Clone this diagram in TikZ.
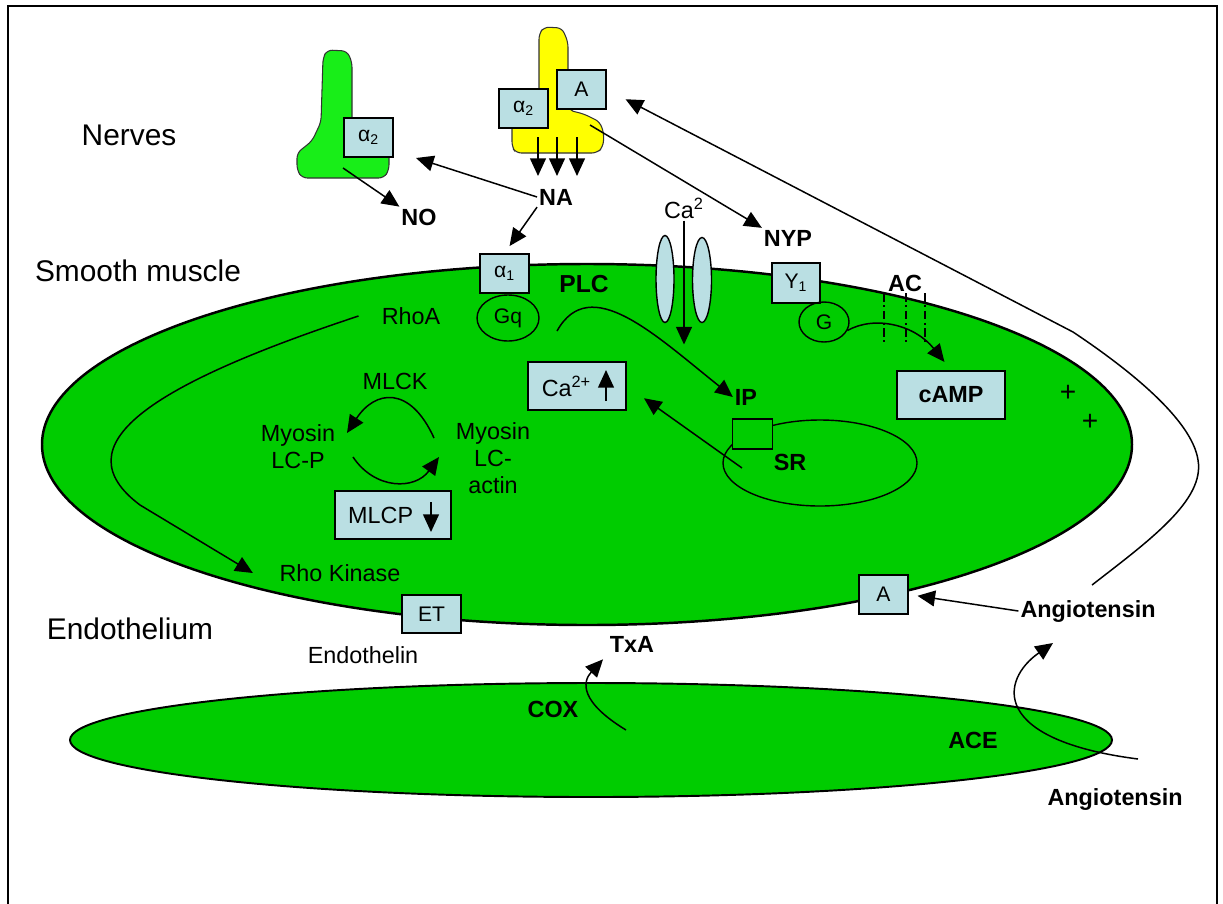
\documentclass[tikz,border=0pt]{standalone}
\usepackage{fontspec}
\setmainfont{Liberation Sans}
\usetikzlibrary{arrows.meta,shapes.geometric}
\definecolor{cellgreen}{RGB}{0,204,0}
\definecolor{nervegreen}{RGB}{24,238,24}
\definecolor{nerveyellow}{RGB}{255,255,0}
\definecolor{boxblue}{RGB}{186,223,227}
\tikzset{
  txt/.style={inner sep=1pt, font=\fontsize{13.3}{15.5}\selectfont},
  btxt/.style={inner sep=1pt, font=\fontsize{13.3}{15.5}\selectfont\bfseries},
  layer/.style={inner sep=1pt, font=\fontsize{17}{20}\selectfont},
  rec/.style={draw, fill=boxblue, line width=0.9pt, inner sep=0pt,
    minimum width=0.98cm, minimum height=0.78cm, font=\fontsize{12}{14}\selectfont},
  orb/.style={draw, ellipse, line width=0.8pt, inner sep=0pt, font=\fontsize{12}{14}\selectfont},
  arr/.style={-{Triangle[length=10pt,width=9pt]}, line width=0.85pt},
}

\begin{document}
\begin{tikzpicture}[x=0.2mm,y=-0.2mm]
 \useasboundingbox (0,0) rectangle (1223,903);
 \draw[line width=1pt] (8,910) -- (8,6) -- (1217,6) -- (1217,910);

 \filldraw[fill=cellgreen, line width=1.4pt] (587,444.5) ellipse (545 and 180.5);
 \filldraw[fill=cellgreen, line width=1.1pt] (591,740) ellipse (521 and 57);

 \filldraw[fill=nervegreen, draw=black!80, line width=0.6pt, rounded corners=3pt]
   (323,58) -- (327,50) -- (347,51) -- (352,62) -- (352,124) -- (389,124)
   -- (389,170) -- (384,178) -- (302,178) -- (297,170) -- (297,153)
   -- (312,141) -- (321,122) -- cycle;
 \filldraw[fill=nerveyellow, draw=black!80, line width=0.6pt, rounded corners=3pt]
   (539,34) -- (544,27) -- (562,28) -- (568,42) -- (568,110) -- (584,114)
   -- (600,122) -- (604,134) -- (603,147) -- (597,153) -- (516,153)
   -- (512,147) -- (512,122) -- (539,118) -- cycle;

 \node[rec] (a2n) at (368.5,137.5) {α\textsubscript{2}};
 \node[rec] (a2y) at (523.5,108.5) {α\textsubscript{2}};
 \node[rec] (atop) at (581.5,89.5) {A};
 \foreach \x in {538,557,577}
   \draw[arr] (\x,137) -- (\x,176);
 \coordinate (nfoot) at (343,168);
 \coordinate (yfoot) at (590,125);

 \node[layer] (nerves) at (129,135) {Nerves};
 \node[layer] (smooth) at (138,271) {Smooth muscle};
 \node[layer] (endo) at (130,629) {Endothelium};

 \node[btxt] (na) at (556,197) {NA};
 \node[btxt] (no) at (419,217) {NO};
 \node[btxt] (nyp) at (788,238) {NYP};
 \node[txt] (ca2) at (684,208) {Ca\textsuperscript{2}};

 \node[orb, fill=boxblue, minimum width=0.36cm, minimum height=1.74cm] (ch1) at (665,279) {};
 \node[orb, fill=boxblue, minimum width=0.38cm, minimum height=1.7cm] (ch2) at (702,280) {};
 \draw[arr] (ca2.south) -- ++(0,124);

 \node[rec] (a1) at (504.5,273.5) {α\textsubscript{1}};
 \node[orb, minimum width=1.24cm, minimum height=0.92cm] (gq) at (508,318) {Gq};
 \node[rec, minimum width=0.96cm, minimum height=0.8cm] (y1) at (796,283) {Y\textsubscript{1}};
 \node[orb, minimum width=1cm, minimum height=0.8cm] (g) at (824,322) {G};

 \draw[arr] (na.west) -- (416,158);
 \draw[arr] (nfoot) -- (no.north west);
 \draw[arr, shorten >=5pt] (na.south west) -- (a1.north);
 \draw[arr] (yfoot) -- (nyp.north west);

 \node[btxt, font=\fontsize{14}{16}\selectfont\bfseries] (plc) at (584,284) {PLC};
 \node[txt] (rhoa) at (411,316) {RhoA};
 \node[btxt] (ac) at (905,283) {AC};
 \foreach \x in {884,906,925}
   \draw[line width=0.6pt, dash pattern=on 5pt off 2pt on 1pt off 2pt] (\x,293) -- (\x,342);
 \node[rec, minimum width=2.16cm, minimum height=0.96cm, font=\fontsize{13.3}{15}\selectfont\bfseries] (camp) at (951,395) {cAMP};
 \draw[arr, shorten >=6pt] (g.-20) .. controls (875,315) and (915,325) .. (camp.north);
 \node[txt, font=\fontsize{16}{16}\selectfont] (p1) at (1068,393) {+};
 \node[txt, font=\fontsize{16}{16}\selectfont] (p2) at (1090,422) {+};

 \node[orb, minimum width=3.88cm, minimum height=1.72cm] (sr) at (820,463) {};
 \node[draw, fill=cellgreen, line width=0.8pt, inner sep=0pt, minimum width=0.8cm, minimum height=0.6cm] (ipbox) at (752.5,434) {};
 \node[btxt] (srl) at (790,462) {SR};
 \node[btxt] (ip) at (746,397) {IP};

 \node[rec, minimum width=1.96cm, minimum height=0.96cm, font=\fontsize{13.3}{15}\selectfont] (ca) at (577,386) {Ca\textsuperscript{2+}\hspace*{12pt}};
 \draw[arr] (606,401) -- (606,370);
 \coordinate (plcin) at (557,331);
 \draw[arr] (plcin) .. controls (590,272) and (655,335) .. (ip.west);
 \coordinate (srout) at (742,468);
 \draw[arr, shorten >=12pt] (srout) -- (ca.east);

 \node[txt] (mlck) at (395,381) {MLCK};
 \node[txt, align=center] (mlcp-l) at (298,447) {Myosin\\LC-P};
 \node[txt, align=center] (mlca) at (493,458) {Myosin\\LC-\\actin};
 \coordinate (upa) at (434,438);
 \coordinate (upb) at (347,433);
 \coordinate (loa) at (353,457);
 \coordinate (lob) at (439,457);
 \draw[arr] (upa) .. controls (410,385) and (375,390) .. (upb);
 \draw[arr] (loa) .. controls (375,490) and (415,490) .. (lob);
 \node[rec, minimum width=2.32cm, minimum height=0.96cm, font=\fontsize{13.3}{15}\selectfont] (mlcp) at (393,515) {MLCP\hspace*{14pt}};
 \draw[arr] (431,502) -- (431,532);

 \node[txt] (rhok) at (340,573) {Rho Kinase};
 \draw[arr] ([xshift=-12pt]rhoa.west) .. controls (150,385) and (60,445) .. (140,505) -- ([xshift=-14pt]rhok.west);

 \node[rec, minimum width=1.18cm, minimum height=0.76cm] (et) at (431.5,614) {ET};
 \node[txt] (endothelin) at (363,655) {Endothelin};
 \node[rec] (abot) at (883.5,594.5) {A};
 \node[btxt] (ang1) at (1088,611) {Angiotensin};
 \node[btxt] (ang2) at (1115,799) {Angiotensin};
 \node[btxt] (txa) at (632,644) {TxA};
 \node[btxt] (cox) at (553,709) {COX};
 \node[btxt] (ace) at (973,740) {ACE};

 \draw[arr, shorten >=5pt] (ang1.west) -- (abot.east);
 \coordinate (angout) at (1092,585);
 \draw[arr, shorten >=12pt] (angout) .. controls (1150,540) and (1205,500) .. (1198,460)
   .. controls (1192,420) and (1130,370) .. (1073,332) -- (atop.east);
 \coordinate (acein) at (1138,759);
 \coordinate (angin) at (1053,643);
 \draw[arr] (acein) .. controls (990,740) and (1000,680) .. (angin);
 \coordinate (coxin) at (626,730);
 \draw[arr, shorten >=4pt] (coxin) .. controls (580,702) and (582,682) .. (txa.south west);
\end{tikzpicture}
\end{document}
